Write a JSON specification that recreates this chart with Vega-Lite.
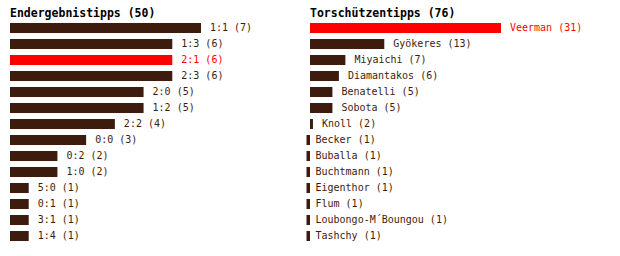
{
  "$schema": "https://vega.github.io/schema/vega-lite/v6.json",
  "padding": {"left": 10, "top": 7, "right": 5, "bottom": 5},
  "background": "white",
  "config": {"view": {"stroke": null}},
  "bounds": "flush",
  "spacing": 10,
  "datasets": {
    "ergebnis": [
      {"name": "1:1", "count": 7, "label": "1:1 (7)", "hl": "n"},
      {"name": "1:3", "count": 6, "label": "1:3 (6)", "hl": "n"},
      {"name": "2:1", "count": 6, "label": "2:1 (6)", "hl": "y"},
      {"name": "2:3", "count": 6, "label": "2:3 (6)", "hl": "n"},
      {"name": "2:0", "count": 5, "label": "2:0 (5)", "hl": "n"},
      {"name": "1:2", "count": 5, "label": "1:2 (5)", "hl": "n"},
      {"name": "2:2", "count": 4, "label": "2:2 (4)", "hl": "n"},
      {"name": "0:0", "count": 3, "label": "0:0 (3)", "hl": "n"},
      {"name": "0:2", "count": 2, "label": "0:2 (2)", "hl": "n"},
      {"name": "1:0", "count": 2, "label": "1:0 (2)", "hl": "n"},
      {"name": "5:0", "count": 1, "label": "5:0 (1)", "hl": "n"},
      {"name": "0:1", "count": 1, "label": "0:1 (1)", "hl": "n"},
      {"name": "3:1", "count": 1, "label": "3:1 (1)", "hl": "n"},
      {"name": "1:4", "count": 1, "label": "1:4 (1)", "hl": "n"}
    ],
    "schuetzen": [
      {"name": "Veerman", "count": 31, "label": "Veerman (31)", "hl": "y"},
      {"name": "Gyökeres", "count": 13, "label": "Gyökeres (13)", "hl": "n"},
      {"name": "Miyaichi", "count": 7, "label": "Miyaichi (7)", "hl": "n"},
      {"name": "Diamantakos", "count": 6, "label": "Diamantakos (6)", "hl": "n"},
      {"name": "Benatelli", "count": 5, "label": "Benatelli (5)", "hl": "n"},
      {"name": "Sobota", "count": 5, "label": "Sobota (5)", "hl": "n"},
      {"name": "Knoll", "count": 2, "label": "Knoll (2)", "hl": "n"},
      {"name": "Becker", "count": 1, "label": "Becker (1)", "hl": "n"},
      {"name": "Buballa", "count": 1, "label": "Buballa (1)", "hl": "n"},
      {"name": "Buchtmann", "count": 1, "label": "Buchtmann (1)", "hl": "n"},
      {"name": "Eigenthor", "count": 1, "label": "Eigenthor (1)", "hl": "n"},
      {"name": "Flum", "count": 1, "label": "Flum (1)", "hl": "n"},
      {"name": "Loubongo-M´Boungou", "count": 1, "label": "Loubongo-M´Boungou (1)", "hl": "n"},
      {"name": "Tashchy", "count": 1, "label": "Tashchy (1)", "hl": "n"}
    ]
  },
  "hconcat": [
    {
      "data": {"name": "ergebnis"},
      "width": 290,
      "height": {"step": 16},
      "title": {"text": "Endergebnistipps (50)", "anchor": "start", "frame": "group", "font": "DejaVu Sans Mono", "fontSize": 11.5, "fontWeight": "bold", "color": "#000000", "baseline": "alphabetic", "offset": -8},
      "encoding": {
        "y": {"field": "name", "type": "nominal", "sort": null, "axis": null, "scale": {"paddingInner": 0.375, "paddingOuter": 0.1875}},
        "x": {"field": "count", "type": "quantitative", "axis": null, "scale": {"domain": [0.3483, 7], "range": [0, 191], "zero": false, "nice": false}},
        "color": {"field": "hl", "type": "nominal", "legend": null, "scale": {"domain": ["n", "y"], "range": ["#3d1c0e", "#ff0000"]}}
      },
      "layer": [
        {"mark": {"type": "bar", "clip": false}, "encoding": {"x2": {"datum": 0.3483}}},
        {"mark": {"type": "text", "align": "left", "baseline": "middle", "dx": 9, "font": "DejaVu Sans Mono", "fontSize": 10}, "encoding": {"text": {"field": "label"}}}
      ]
    },
    {
      "data": {"name": "schuetzen"},
      "width": 290,
      "height": {"step": 16},
      "title": {"text": "Torschützentipps (76)", "anchor": "start", "frame": "group", "font": "DejaVu Sans Mono", "fontSize": 11.5, "fontWeight": "bold", "color": "#000000", "baseline": "alphabetic", "offset": -8},
      "encoding": {
        "y": {"field": "name", "type": "nominal", "sort": null, "axis": null, "scale": {"paddingInner": 0.375, "paddingOuter": 0.1875}},
        "x": {"field": "count", "type": "quantitative", "axis": null, "scale": {"domain": [1.5423, 31], "range": [0, 191], "zero": false, "nice": false}},
        "color": {"field": "hl", "type": "nominal", "legend": null, "scale": {"domain": ["n", "y"], "range": ["#3d1c0e", "#ff0000"]}}
      },
      "layer": [
        {"mark": {"type": "bar", "clip": false}, "encoding": {"x2": {"datum": 1.5423}}},
        {"mark": {"type": "text", "align": "left", "baseline": "middle", "dx": 9, "font": "DejaVu Sans Mono", "fontSize": 10}, "encoding": {"text": {"field": "label"}}}
      ]
    }
  ],
  "resolve": {"scale": {"x": "independent", "y": "independent", "color": "independent"}}
}
